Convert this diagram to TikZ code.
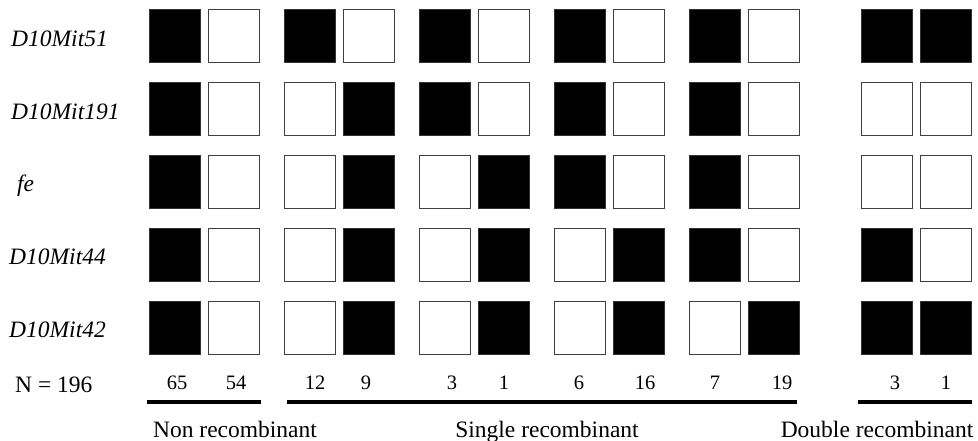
\documentclass[tikz,border=0pt]{standalone}
\usepackage{fontspec}
\setmainfont{Liberation Serif}
\begin{document}
\begin{tikzpicture}[x=1pt,y=-1pt,
  cell/.style={rectangle,minimum width=51pt,minimum height=53pt,inner sep=0pt,anchor=north west,line width=1.2pt,draw=black!75},
  blk/.style={cell,fill=black,draw=black!80},
  wht/.style={cell,fill=white},
  rowlab/.style={anchor=base west,inner sep=0pt,font=\fontsize{23.5}{25}\selectfont\itshape},
  num/.style={anchor=base,inner sep=0pt,font=\fontsize{20.5}{22}\selectfont},
  cat/.style={anchor=base,inner sep=0pt,font=\fontsize{23.5}{25}\selectfont},
  bar/.style={line width=4pt}]
\useasboundingbox (0,0) rectangle (978,441);
\newcommand{\myrow}[3]{%
  \foreach \p [count=\i] in {#2}{%
    \pgfmathsetmacro{\xx}{{149,207.5,284,342.5,419,477.5,554,612.5,689,747.5,861,919.5}[\i-1]}
    \node[\p] (r#1c\i) at (\xx,#3) {};
  }}
\myrow{1}{blk,wht,blk,wht,blk,wht,blk,wht,blk,wht,blk,blk}{9}
\myrow{2}{blk,wht,wht,blk,blk,wht,blk,wht,blk,wht,wht,wht}{82}
\myrow{3}{blk,wht,wht,blk,wht,blk,blk,wht,blk,wht,wht,wht}{155}
\myrow{4}{blk,wht,wht,blk,wht,blk,wht,blk,blk,wht,blk,wht}{228}
\myrow{5}{blk,wht,wht,blk,wht,blk,wht,blk,wht,blk,blk,blk}{301}
% row labels
\node[rowlab] (l1) at (11,47) {D10Mit51};
\node[rowlab] (l2) at (11,120) {D10Mit191};
\node[rowlab] (l3) at (17,192) {fe};
\node[rowlab] (l4) at (9,264) {D10Mit44};
\node[rowlab] (l5) at (9,337) {D10Mit42};
\node[anchor=base west,inner sep=0pt,font=\fontsize{23.5}{25}\selectfont] (n) at (15,392) {N = 196};
% counts
\foreach \v/\xc [count=\k] in {65/177,54/236,12/315,9/366,3/452,1/504,6/579,16/645,7/715,19/782,3/895,1/946}
  \node[num] (c\k) at (\xc,389) {\v};
% bars
\coordinate (a1) at (147,402); \coordinate (a2) at (261,402);
\coordinate (b1) at (287,402); \coordinate (b2) at (797,402);
\coordinate (d1) at (858,402); \coordinate (d2) at (972,402);
\draw[bar] (a1) -- (a2);
\draw[bar] (b1) -- (b2);
\draw[bar] (d1) -- (d2);
% category labels
\node[cat] (t1) at (235,437) {Non recombinant};
\node[cat] (t2) at (547,437) {Single recombinant};
\node[cat] (t3) at (877,437) {Double recombinant};
\end{tikzpicture}
\end{document}
